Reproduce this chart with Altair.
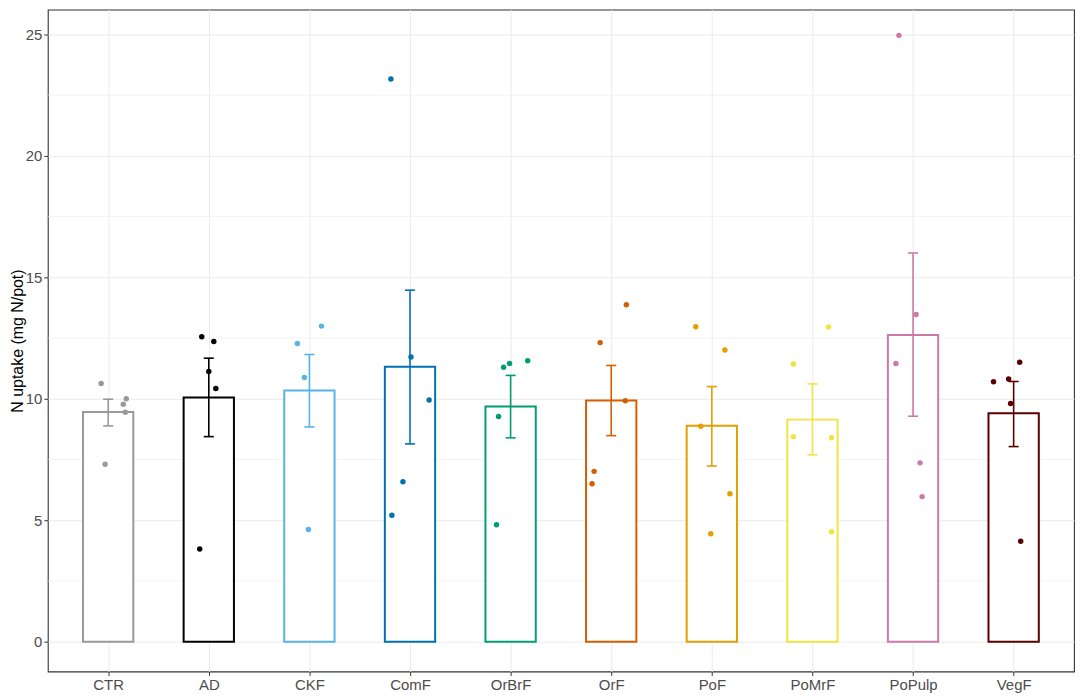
import altair as alt
import pandas as pd

categories = ["CTR", "AD", "CKF", "ComF", "OrBrF", "OrF", "PoF", "PoMrF", "PoPulp", "VegF"]
colors = ["#999999", "#000000", "#56B4E9", "#0072B2", "#009E73",
          "#D55E00", "#E69F00", "#F0E442", "#CC79A7", "#5B0000"]
means = [9.45, 10.05, 10.34, 11.32, 9.68, 9.93, 8.89, 9.14, 12.62, 9.40]
err_low = [8.88, 8.44, 8.84, 8.14, 8.39, 8.48, 7.23, 7.69, 9.28, 8.03]
err_high = [9.98, 11.67, 11.82, 14.47, 10.96, 11.37, 10.50, 10.61, 16.00, 10.71]

points = {
    "CTR":    [10.63, 10.00, 9.77, 9.44, 7.30],
    "AD":     [12.55, 12.36, 11.12, 10.42, 3.81],
    "CKF":    [12.99, 12.27, 10.87, 4.62],
    "ComF":   [23.16, 11.72, 9.95, 6.58, 5.20],
    "OrBrF":  [11.30, 11.45, 11.56, 9.27, 4.81],
    "OrF":    [13.87, 12.31, 9.92, 7.01, 6.50],
    "PoF":    [12.96, 12.01, 8.87, 6.09, 4.44],
    "PoMrF":  [12.95, 11.43, 8.44, 8.39, 4.52],
    "PoPulp": [24.96, 13.47, 11.45, 7.36, 5.97],
    "VegF":   [11.50, 10.70, 10.81, 9.80, 4.13],
}
jitter = {
    "CTR":    [-0.07, 0.18, 0.15, 0.17, -0.03],
    "AD":     [-0.07, 0.05, 0.00, 0.07, -0.09],
    "CKF":    [0.12, -0.12, -0.05, -0.01],
    "ComF":   [-0.19, 0.01, 0.19, -0.07, -0.18],
    "OrBrF":  [-0.07, -0.01, 0.17, -0.12, -0.14],
    "OrF":    [0.15, -0.11, 0.14, -0.17, -0.19],
    "PoF":    [-0.16, 0.13, -0.11, 0.18, -0.01],
    "PoMrF":  [0.16, -0.19, -0.19, 0.19, 0.19],
    "PoPulp": [-0.14, 0.03, -0.17, 0.07, 0.09],
    "VegF":   [0.06, -0.20, -0.05, -0.03, 0.07],
}
y_ticks = [0, 5, 10, 15, 20, 25]
minor_ticks = [2.5, 7.5, 12.5, 17.5, 22.5]
bar_half = 0.25
cap_half = 0.05

idx = list(range(len(categories)))
summary = pd.DataFrame({
    "trt": categories, "i": idx, "mean": means, "lo": err_low, "hi": err_high,
})
summary["left"] = summary["i"] - bar_half
summary["right"] = summary["i"] + bar_half
summary["cl"] = summary["i"] - cap_half
summary["cr"] = summary["i"] + cap_half
pts = pd.DataFrame(
    [{"trt": c, "xp": i + j, "val": v}
     for i, c in enumerate(categories) for v, j in zip(points[c], jitter[c])]
)
minor_df = pd.DataFrame({"m": minor_ticks})

font = "Liberation Sans"
ydom = [-1.23, 26.02]
xdom = [-0.6, len(categories) - 1 + 0.6]

label_expr = "[" + ",".join("'%s'" % c for c in categories) + "][round(datum.value)]"

x_scale = alt.Scale(domain=xdom, nice=False, zero=False)
y_scale = alt.Scale(domain=ydom, nice=False, zero=False)
x_axis = alt.Axis(title=None, values=idx, labelExpr=label_expr, grid=True,
                  gridColor="#EBEBEB", gridWidth=1, ticks=True, tickSize=4,
                  tickColor="#333333", domain=False, labelFont=font, labelFontSize=15,
                  labelColor="#4D4D4D", labelPadding=2, labelAngle=0)
y_axis = alt.Axis(values=y_ticks, title="N uptake (mg N/pot)", grid=True,
                  gridColor="#EBEBEB", gridWidth=1, ticks=True, tickSize=4,
                  tickColor="#333333", domain=False,
                  labelFont=font, labelFontSize=15, labelColor="#4D4D4D",
                  labelPadding=2, titleFont=font, titleFontSize=16,
                  titleFontWeight="normal", titleColor="#000000", titlePadding=0)
color_enc = alt.Color("trt:N", scale=alt.Scale(domain=categories, range=colors), legend=None)

minor = alt.Chart(minor_df).mark_rule(color="#EBEBEB", strokeWidth=0.6).encode(
    y=alt.Y("m:Q", scale=y_scale, axis=y_axis)
)

bars = alt.Chart(summary).mark_rect(fill="white", strokeWidth=2).encode(
    x=alt.X("left:Q", scale=x_scale, axis=x_axis),
    x2="right:Q",
    y=alt.Y("mean:Q", scale=y_scale),
    y2=alt.Y2(datum=0),
    stroke=color_enc,
)

err_rule = alt.Chart(summary).mark_rule(strokeWidth=1.6).encode(
    x=alt.X("i:Q", scale=x_scale),
    y=alt.Y("lo:Q", scale=y_scale),
    y2="hi:Q",
    color=color_enc,
)
cap_lo = alt.Chart(summary).mark_rule(strokeWidth=1.6).encode(
    x=alt.X("cl:Q", scale=x_scale), x2="cr:Q",
    y=alt.Y("lo:Q", scale=y_scale),
    color=color_enc,
)
cap_hi = alt.Chart(summary).mark_rule(strokeWidth=1.6).encode(
    x=alt.X("cl:Q", scale=x_scale), x2="cr:Q",
    y=alt.Y("hi:Q", scale=y_scale),
    color=color_enc,
)

dots = alt.Chart(pts).mark_circle(size=30, opacity=1).encode(
    x=alt.X("xp:Q", scale=x_scale),
    y=alt.Y("val:Q", scale=y_scale),
    color=color_enc,
)

chart = alt.layer(minor, bars, err_rule, cap_lo, cap_hi, dots).properties(
    width=1031, height=665,
    autosize=alt.AutoSizeParams(type="none"),
    padding={"left": 40, "top": 0, "right": 2, "bottom": 25},
).configure(
    background="white",
    view=alt.ViewConfig(stroke="#333333", strokeWidth=1.1),
)

chart.save("out.html", embed_options={"renderer": "svg", "actions": False})
